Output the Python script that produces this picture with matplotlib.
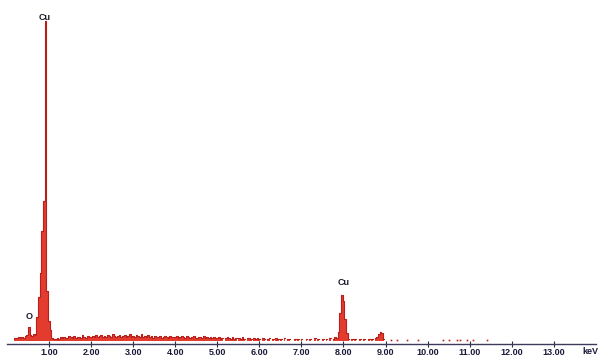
import matplotlib.pyplot as plt
import numpy as np

# EDS spectrum, channels of 0.04 keV starting at 0.16 keV
e_start = 0.16
e_step = 0.04

# 0.16 - 1.04 keV (O K and Cu L)
counts_low = [25, 35, 30, 40, 30, 45, 35, 50, 60, 140, 60, 50, 70, 60,
              240, 440, 680, 1100, 1400, 3200, 500, 200, 110]
# 1.08 - 7.84 keV background
counts_bg = [30, 20, 25, 35, 25, 40, 30, 45, 35, 30, 50, 40, 35, 55, 30, 45, 40, 35, 60, 40, 30, 50, 45,
             40, 55, 45, 60, 40, 50, 65, 45, 55, 40, 60, 50, 45, 70, 50, 40, 55, 65, 45, 50, 60, 40, 55, 70, 45,
             55, 40, 65, 50, 45, 70, 40, 55, 45, 60, 40, 50, 35, 55, 45, 40, 50, 35, 45, 55, 40, 35, 50, 40, 45,
             40, 50, 35, 45, 55, 40, 30, 50, 45, 35, 40, 55, 35, 30, 45, 40, 35, 50, 30, 40, 35, 45, 30, 40, 35,
             30, 40, 25, 35, 0, 30, 45, 30, 25, 40, 20, 35, 0, 30, 25, 40, 20, 0, 30, 35, 25, 0, 30, 20, 35,
             25, 0, 30, 20, 0, 25, 35, 0, 20, 0, 30, 25, 0, 20, 0, 30, 0, 25, 20, 0, 0, 25, 0, 20, 0,
             20, 0, 0, 25, 0, 20, 0, 0, 30, 0, 20, 0, 0, 25, 0, 20, 0, 30, 0, 25, 40, 30]
# 7.88 - 8.96 keV (Cu K alpha / K beta)
counts_cuk = [90, 280, 460, 400, 220, 80, 25,
              0, 20, 0, 25, 0, 0, 20, 0, 25, 0, 0, 20, 0, 25, 0, 30,
              40, 70, 90, 80, 20]

# stray single counts past 9 keV
stray_e = [9.12, 9.28, 9.52, 9.76, 10.36, 10.50, 10.70, 10.78, 10.94, 11.08, 11.42]
stray_c = [10, 10, 10, 10, 10, 10, 10, 10, 10, 10, 10]

peak_labels = ['Cu', 'O', 'Cu']
peak_e = [0.90, 0.52, 8.00]
peak_c = [3190, 200, 540]

tick_vals = [1, 2, 3, 4, 5, 6, 7, 8, 9, 10, 11, 12, 13]

counts = np.array(counts_low + counts_bg + counts_cuk, dtype=float)
energy = np.round(e_start + e_step * np.arange(len(counts)), 2)

fig = plt.figure(figsize=(6.03, 3.6), dpi=100)
ax = fig.add_axes([6.9 / 603, 16 / 360, 589 / 603, 344 / 360])

fill_col = '#e33b2e'
edge_col = '#b8201c'
ax.fill_between(energy, counts, step='mid', color=fill_col, lw=0)
ax.step(energy, np.ma.masked_where(counts == 0, counts), where='mid',
        color=edge_col, lw=0.8)
ax.plot(stray_e, stray_c, ls='none', marker='s', ms=1.2, color=edge_col, mew=0)

for lab, x, y in zip(peak_labels, peak_e, peak_c):
    ax.text(x, y, lab, ha='center', va='bottom', fontsize=6.5,
            fontweight='bold', color='#1a1a2a', family='Liberation Sans')

ax.set_xlim(0, 14.0)
ax.set_ylim(-30, 3410)
ax.set_xticks(tick_vals)
ax.set_xticklabels(['%.2f' % v for v in tick_vals], fontsize=6.5,
                   fontweight='bold', color='#1a1a3a', family='Liberation Sans')
ax.tick_params(axis='x', direction='inout', length=4, width=0.8,
               color='#2a2a44', pad=1)
ax.set_yticks([])
for s in ['left', 'right', 'top']:
    ax.spines[s].set_visible(False)
ax.spines['bottom'].set_color('#3a3a5a')
ax.spines['bottom'].set_linewidth(1.0)

fig.text(590 / 603, 1 - 352 / 360, 'keV', ha='center', va='center',
         fontsize=6.5, fontweight='bold', color='#1a1a3a', family='Liberation Sans')

fig.savefig('out.png', dpi=100)
